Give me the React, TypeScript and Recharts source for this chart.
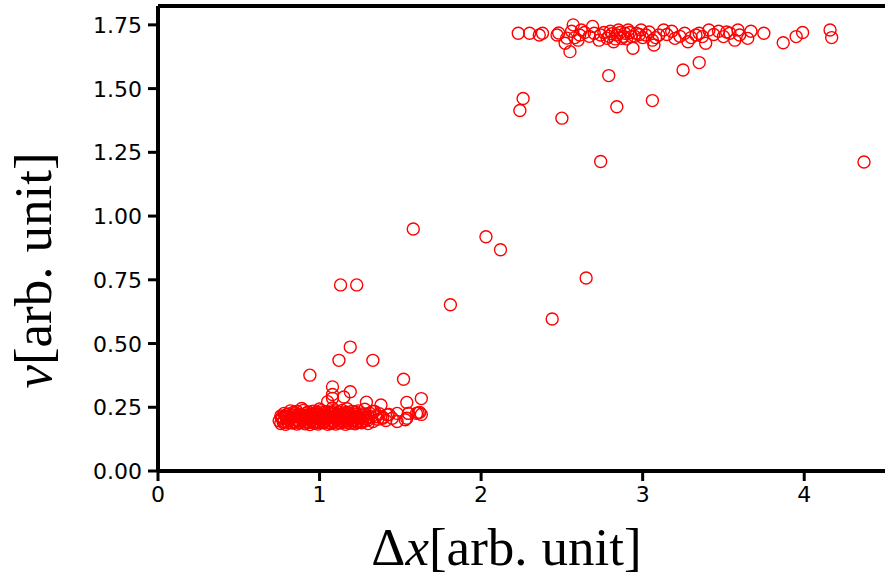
import { ScatterChart, Scatter, XAxis, YAxis, ReferenceLine } from "recharts";

// tick positions
const xTicks = [0, 1, 2, 3, 4];
const yTicks = [0, 0.25, 0.5, 0.75, 1.0, 1.25, 1.5, 1.75];

// dense low-speed cluster, [dx, v]
const lowCluster: [number, number][] = [
  [0.76, 0.186], [0.79, 0.183], [0.83, 0.188], [0.86, 0.184], [0.88, 0.19], [0.91, 0.185], [0.94, 0.182],
  [0.97, 0.187], [0.99, 0.184], [1.02, 0.189], [1.05, 0.183], [1.07, 0.186], [1.1, 0.184], [1.13, 0.188],
  [1.16, 0.183], [1.19, 0.187], [1.22, 0.185], [1.26, 0.189], [1.3, 0.186],
  [0.75, 0.197], [0.78, 0.195], [0.81, 0.199], [0.84, 0.194], [0.87, 0.196], [0.9, 0.198], [0.92, 0.193],
  [0.95, 0.197], [0.98, 0.195], [1.01, 0.199], [1.03, 0.194], [1.06, 0.197], [1.09, 0.195], [1.12, 0.198],
  [1.14, 0.193], [1.17, 0.196], [1.2, 0.199], [1.24, 0.195], [1.28, 0.197], [1.33, 0.194], [1.41, 0.198],
  [0.77, 0.206], [0.8, 0.204], [0.82, 0.208], [0.85, 0.203], [0.89, 0.207], [0.93, 0.205], [0.96, 0.209],
  [1.0, 0.204], [1.04, 0.206], [1.08, 0.208], [1.11, 0.203], [1.15, 0.207], [1.18, 0.205], [1.21, 0.209],
  [1.25, 0.204], [1.29, 0.206], [1.36, 0.203], [1.45, 0.207], [1.53, 0.201],
  [0.76, 0.216], [0.79, 0.214], [0.84, 0.218], [0.87, 0.213], [0.91, 0.217], [0.94, 0.215], [0.97, 0.219],
  [1.0, 0.214], [1.02, 0.216], [1.05, 0.218], [1.08, 0.213], [1.11, 0.217], [1.13, 0.215], [1.16, 0.219],
  [1.19, 0.214], [1.23, 0.216], [1.27, 0.218], [1.32, 0.213], [1.39, 0.211],
  [0.78, 0.226], [0.81, 0.224], [0.85, 0.228], [0.88, 0.223], [0.92, 0.227], [0.95, 0.225], [0.99, 0.229],
  [1.03, 0.224], [1.06, 0.226], [1.09, 0.228], [1.12, 0.223], [1.15, 0.227], [1.18, 0.225], [1.22, 0.229],
  [1.26, 0.224], [1.31, 0.227], [1.37, 0.225], [1.43, 0.222], [1.55, 0.226], [1.61, 0.228],
  [0.82, 0.236], [0.86, 0.234], [0.9, 0.238], [0.96, 0.235], [1.01, 0.237], [1.05, 0.233], [1.1, 0.236],
  [1.14, 0.238], [1.2, 0.234], [1.24, 0.236], [1.34, 0.234],
  [0.89, 0.245], [1.0, 0.243], [1.08, 0.247], [1.17, 0.244], [1.28, 0.242],
  [0.775, 0.191], [0.805, 0.19], [0.845, 0.192], [0.875, 0.189], [0.905, 0.192], [0.935, 0.19], [0.965, 0.191],
  [0.995, 0.19], [1.025, 0.192], [1.055, 0.19], [1.085, 0.191], [1.115, 0.19], [1.145, 0.192], [1.175, 0.19],
  [1.205, 0.191], [1.235, 0.19], [1.265, 0.192], [0.765, 0.21], [0.795, 0.211], [0.825, 0.21],
  [0.855, 0.212], [0.885, 0.21], [0.915, 0.211], [0.945, 0.21], [0.975, 0.212], [1.005, 0.21], [1.035, 0.211],
  [1.065, 0.21], [1.095, 0.212], [1.125, 0.21], [1.155, 0.211], [1.185, 0.21], [1.215, 0.212], [1.245, 0.21],
  [1.275, 0.211], [1.305, 0.21], [0.795, 0.221], [0.835, 0.22], [0.865, 0.222], [0.895, 0.22], [0.925, 0.221],
  [0.955, 0.22], [0.985, 0.222], [1.015, 0.22], [1.045, 0.221], [1.075, 0.22], [1.105, 0.222], [1.135, 0.22],
  [1.165, 0.221], [1.195, 0.22], [1.225, 0.222], [1.255, 0.22], [1.285, 0.221], [0.84, 0.231], [0.93, 0.232],
  [0.98, 0.231], [1.03, 0.232], [1.07, 0.231], [1.12, 0.232], [1.17, 0.231], [1.22, 0.232],
];

// sparse points around the low cluster
const lowScatter: [number, number][] = [
  [1.35, 0.213], [1.39, 0.207], [1.42, 0.22], [1.48, 0.194], [1.48, 0.226], [1.54, 0.207], [1.55, 0.226],
  [1.6, 0.226], [1.62, 0.23], [1.63, 0.222], [1.3, 0.2], [1.33, 0.234], [1.05, 0.272], [1.08, 0.285],
  [1.08, 0.3], [1.08, 0.33], [1.15, 0.29], [1.19, 0.311], [1.29, 0.27], [1.38, 0.259], [1.54, 0.269],
  [1.63, 0.284], [1.52, 0.36], [0.94, 0.376], [1.12, 0.434], [1.33, 0.434], [1.19, 0.486], [1.13, 0.73],
  [1.23, 0.73],
];

// points between the two branches
const transition: [number, number][] = [
  [1.58, 0.949], [2.03, 0.919], [2.12, 0.868], [2.65, 0.757], [1.81, 0.652], [2.44, 0.596], [2.74, 1.214],
  [4.37, 1.212], [2.24, 1.414], [2.26, 1.461], [2.5, 1.384], [2.84, 1.429], [3.06, 1.453], [2.79, 1.551],
  [3.25, 1.573], [3.35, 1.602],
];

// upper branch
const highCluster: [number, number][] = [
  [2.23, 1.717], [2.3, 1.717], [2.36, 1.71], [2.38, 1.717], [2.47, 1.71], [2.52, 1.678], [2.55, 1.645],
  [2.53, 1.698], [2.57, 1.75], [2.56, 1.725], [2.61, 1.71], [2.62, 1.73], [2.69, 1.744], [2.7, 1.717],
  [2.74, 1.71], [2.73, 1.69], [2.78, 1.697], [2.8, 1.725], [2.82, 1.684], [2.84, 1.71], [2.85, 1.73],
  [2.87, 1.697], [2.89, 1.717], [2.91, 1.73], [2.94, 1.658], [2.93, 1.704], [2.96, 1.717], [2.99, 1.73],
  [3.02, 1.71], [3.06, 1.69], [3.07, 1.671], [3.13, 1.73], [3.1, 1.71], [3.18, 1.725], [3.2, 1.697],
  [3.26, 1.717], [3.28, 1.684], [3.33, 1.71], [3.35, 1.717], [3.37, 1.704], [3.39, 1.678], [3.41, 1.73],
  [3.47, 1.725], [3.5, 1.704], [3.54, 1.717], [3.57, 1.69], [3.59, 1.73], [3.6, 1.71], [3.65, 1.697],
  [3.67, 1.725], [3.75, 1.717], [3.87, 1.68], [3.95, 1.704], [3.99, 1.72], [4.16, 1.73], [4.17, 1.7],
  [2.58, 1.7], [2.6, 1.69], [2.64, 1.72], [2.67, 1.705], [2.76, 1.72], [2.79, 1.705], [2.81, 1.715],
  [2.83, 1.695], [2.86, 1.72], [2.88, 1.705], [2.9, 1.695], [2.92, 1.72], [2.95, 1.705], [2.98, 1.712],
  [3.0, 1.7], [3.04, 1.722], [3.08, 1.7], [3.15, 1.712], [3.23, 1.705], [3.3, 1.7], [3.44, 1.712],
  [3.52, 1.722], [2.48, 1.718],
];

const data = [...lowCluster, ...lowScatter, ...transition, ...highCluster].map(([dx, v]) => ({ dx, v }));

function Ring(props: any) {
  return <circle cx={props.cx} cy={props.cy} r={6} fill="none" stroke="#ff0000" strokeWidth={1.4} />;
}

function XTick({ x, y, payload }: any) {
  return (
    <text x={x} y={y + 17} textAnchor="middle" fontFamily="DejaVu Sans" fontSize={22} fill="#000">
      {payload.value}
    </text>
  );
}

function YTick({ x, y, payload }: any) {
  return (
    <text x={x} y={y + 8} textAnchor="end" fontFamily="DejaVu Sans" fontSize={22} fill="#000">
      {Number(payload.value).toFixed(2)}
    </text>
  );
}

function XTitle({ viewBox }: any) {
  const cx = viewBox.x + viewBox.width / 2 - 15;
  return (
    <text x={cx} y={viewBox.y + viewBox.height - 16} textAnchor="middle" fontFamily="Liberation Serif" fontSize={53} fill="#000">
      Δ<tspan fontStyle="italic">x</tspan>[arb.<tspan dx={14}>unit]</tspan>
    </text>
  );
}

function YTitle({ viewBox }: any) {
  const cx = 51;
  const cy = viewBox.y + viewBox.height / 2 + 32;
  return (
    <text x={cx} y={cy} transform={`rotate(-90, ${cx}, ${cy})`} textAnchor="middle" fontFamily="Liberation Serif" fontSize={53} fill="#000">
      <tspan fontStyle="italic">v</tspan>[arb.<tspan dx={14}>unit]</tspan>
    </text>
  );
}

export default function App() {
  return (
    <div>
      <style>{"body{margin:0}"}</style>
      <ScatterChart width={885} height={581} margin={{ top: 6, right: 0, bottom: 0, left: 0 }}>
        <XAxis
          type="number"
          dataKey="dx"
          domain={[0, 4.5]}
          ticks={xTicks}
          height={110}
          tickSize={10}
          tickMargin={4}
          axisLine={{ stroke: "#000", strokeWidth: 4 }}
          tickLine={{ stroke: "#000", strokeWidth: 3 }}
          tick={<XTick />}
          allowDataOverflow
          label={<XTitle />}
        />
        <YAxis
          type="number"
          dataKey="v"
          domain={[0, 1.824]}
          ticks={yTicks}
          width={158}
          tickSize={10}
          tickMargin={6}
          axisLine={{ stroke: "#000", strokeWidth: 4 }}
          tickLine={{ stroke: "#000", strokeWidth: 3 }}
          tick={<YTick />}
          allowDataOverflow
          label={<YTitle />}
        />
        <ReferenceLine y={1.824} stroke="#000" strokeWidth={4} />
        <Scatter data={data} shape={<Ring />} isAnimationActive={false} />
      </ScatterChart>
    </div>
  );
}
